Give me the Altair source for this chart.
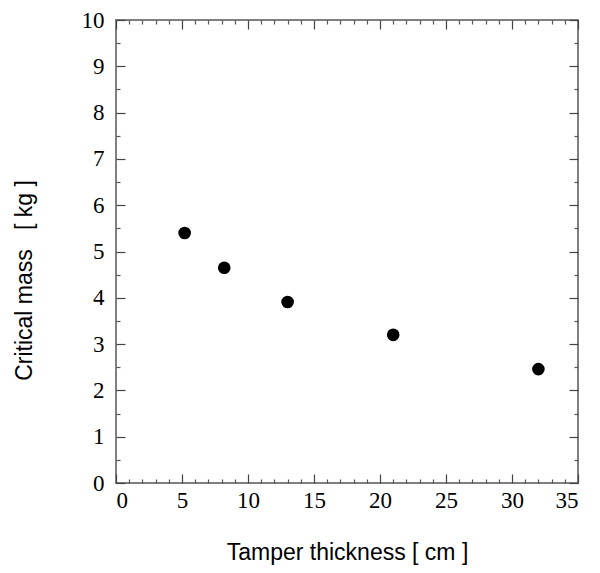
import altair as alt
import pandas as pd

# data
thickness = [5.2, 8.2, 13.0, 21.0, 32.0]        # cm
critical_mass = [5.4, 4.65, 3.91, 3.2, 2.46]    # kg

x_major = list(range(0, 36, 5))
x_minor = [i for i in range(0, 36) if i % 5]
y_major = list(range(0, 11))
y_minor = [i + 0.5 for i in range(10)]

W, H = 462, 463
df = pd.DataFrame({"t": thickness, "m": critical_mass})

xs = alt.Scale(domain=[0, 35], nice=False, zero=False)
ys = alt.Scale(domain=[0, 10], nice=False, zero=False)

base = alt.Chart(df)

label_font = "Liberation Serif"
title_font = "Liberation Sans"

points = base.mark_circle(size=160, color="black", opacity=1).encode(
    x=alt.X(
        "t:Q", scale=xs,
        axis=alt.Axis(
            orient="bottom", values=x_major, ticks=False, domain=False, grid=False,
            labelFont=label_font, labelFontSize=23, labelColor="black", labelPadding=6,
            title="Tamper thickness\u00a0[\u00a0cm\u00a0]", titleFont=title_font, titleFontSize=23,
            titleFontWeight="normal", titleColor="black", titleY=69, titleBaseline="middle",
        ),
    ),
    y=alt.Y(
        "m:Q", scale=ys,
        axis=alt.Axis(
            orient="left", values=y_major, ticks=False, domain=False, grid=False,
            labelFont=label_font, labelFontSize=23, labelColor="black", labelPadding=12,
            title="Critical mass\u00a0\u00a0\u00a0[\u00a0kg\u00a0]", titleFont=title_font, titleFontSize=23,
            titleFontWeight="normal", titleColor="black", titleX=-92, titleY=260,
            titleBaseline="middle", titleAngle=270,
        ),
    ),
)


def tick_layer(xorient, yorient, xvals, yvals, size, color):
    return base.mark_circle(opacity=0).encode(
        x=alt.X(
            "t:Q", scale=xs,
            axis=alt.Axis(orient=xorient, offset=-H, values=xvals, labels=False,
                          domain=False, grid=False, title="", tickSize=size,
                          tickColor=color, tickWidth=1.2),
        ),
        y=alt.Y(
            "m:Q", scale=ys,
            axis=alt.Axis(orient=yorient, offset=-W, values=yvals, labels=False,
                          domain=False, grid=False, title="", tickSize=size,
                          tickColor=color, tickWidth=1.2),
        ),
    )


layers = [
    points,
    tick_layer("top", "right", x_major, y_major, 9, "#444444"),
    tick_layer("bottom", "left", x_major, y_major, 9, "#444444"),
    tick_layer("top", "right", x_minor, y_minor, 4, "#555555"),
    tick_layer("bottom", "left", x_minor, y_minor, 4, "#555555"),
]

chart = (
    alt.layer(*layers)
    .resolve_scale(x="independent", y="independent")
    .resolve_axis(x="independent", y="independent")
    .properties(
        width=W, height=H,
        autosize=alt.AutoSizeParams(type="none"),
        padding={"left": 108, "top": 12, "right": 14, "bottom": 82},
        background="white",
    )
    .configure_view(stroke="#808080", strokeWidth=2)
)

chart.save("out.html", embed_options={"renderer": "svg", "actions": False})
